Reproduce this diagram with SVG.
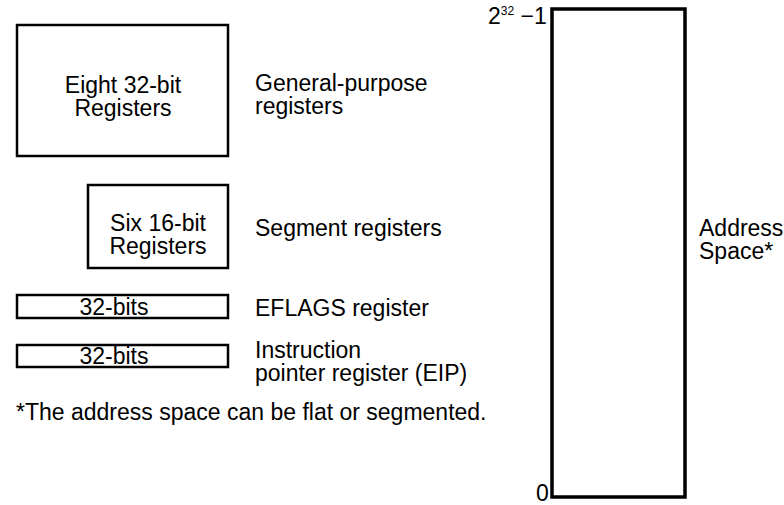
<svg xmlns="http://www.w3.org/2000/svg" width="784" height="505" viewBox="0 0 784 505">
<style>
.box{fill:#fff;stroke:#000;stroke-width:2.5}
.t{font-family:"Liberation Sans",Arial,Helvetica,sans-serif;font-size:23px;fill:#000}
.m{text-anchor:middle}
</style>
<rect width="784" height="505" fill="#fff"/>
<g id="gp-registers">
<rect class="box" x="17" y="25" width="211" height="131"/>
<text class="t m" x="123" y="93">Eight 32-bit<tspan x="123" dy="23">Registers</tspan></text>
<text class="t" x="255" y="91">General-purpose<tspan x="255" dy="23">registers</tspan></text>
</g>
<g id="seg-registers">
<rect class="box" x="88" y="185" width="140" height="83"/>
<text class="t m" x="158" y="231">Six 16-bit<tspan x="158" dy="23">Registers</tspan></text>
<text class="t" x="255" y="236">Segment registers</text>
</g>
<g id="eflags">
<rect class="box" x="17" y="295" width="211" height="23"/>
<text class="t m" x="114" y="315">32-bits</text>
<text class="t" x="255" y="316">EFLAGS register</text>
</g>
<g id="eip">
<rect class="box" x="17" y="345" width="211" height="22"/>
<text class="t m" x="114" y="364">32-bits</text>
<text class="t" x="255" y="358">Instruction<tspan x="255" dy="23">pointer register (EIP)</tspan></text>
</g>
<g id="footnote">
<text class="t" x="16" y="420">*The address space can be flat or segmented.</text>
</g>
<g id="address-space">
<rect x="552" y="9" width="133" height="488" fill="#fff" stroke="#000" stroke-width="3.5"/>
<text class="t" x="488" y="24">2<tspan font-size="12" dy="-9">32</tspan><tspan dy="9"> −1</tspan></text>
<text class="t" x="536" y="501">0</text>
<text class="t" x="699" y="236">Address<tspan x="699" dy="23">Space*</tspan></text>
</g>
</svg>
